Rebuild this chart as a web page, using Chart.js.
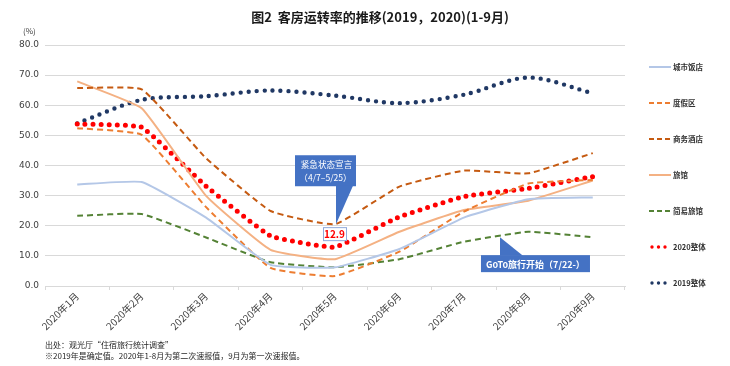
<!DOCTYPE html>
<html>
<head>
<meta charset="utf-8">
<script src="https://cdn.jsdelivr.net/npm/chart.js@4/dist/chart.umd.min.js"></script>
<style>
  html, body { margin: 0; padding: 0; background: #fff; }
  #wrap { width: 730px; height: 366px; position: relative; }
</style>
</head>
<body>
<div id="wrap"><canvas id="occChart" width="730" height="366"></canvas></div>
<script>
/* ── data ─────────────────────────────────────────────── */
const MONTHS = ['2020年1月','2020年2月','2020年3月','2020年4月','2020年5月','2020年6月','2020年7月','2020年8月','2020年9月'];
const CITY_HOTEL     = [33.7, 34.5, 22.7,  7.0,  6.2, 12.3, 22.7, 28.8, 29.4];
const RESORT_HOTEL   = [52.4, 50.2, 26.2,  6.0,  3.3, 11.4, 24.7, 34.0, 35.2];
const BUSINESS_HOTEL = [65.7, 65.3, 42.4, 24.9, 20.5, 33.0, 38.3, 37.4, 44.1];
const RYOKAN         = [67.9, 59.0, 29.9, 12.0,  8.9, 18.0, 25.2, 28.3, 35.0];
const SIMPLE_LODGE   = [23.3, 23.9, 16.1,  7.9,  6.2,  8.9, 14.7, 18.0, 16.2];
const TOTAL_2020     = [53.8, 52.7, 33.1, 16.6, 12.9, 23.0, 29.7, 32.4, 36.3];
const TOTAL_2019     = [54.0, 61.8, 63.0, 64.9, 63.2, 60.7, 63.5, 69.2, 64.0];
const Y_TICKS = [0, 10, 20, 30, 40, 50, 60, 70, 80];

const TITLE = '图2  客房运转率的推移(2019，2020)(1-9月)';
const NOTES = ['出处：观光厅“住宿旅行统计调查”', '※2019年是确定值。2020年1-8月为第二次速报值，9月为第一次速报值。'];

const FONT = "'Noto Sans CJK SC', 'DejaVu Sans', sans-serif";
const C = {
  city: '#b4c7e7', resort: '#ed7d31', business: '#c55a11', ryokan: '#f4b183',
  simple: '#548235', t2020: '#ff0000', t2019: '#203864', grid: '#d9d9d9',
  tick: '#404040', box: '#4472c4',
};

function lineDs(label, data, color, dash) {
  return {
    label, data, borderColor: color, backgroundColor: color,
    borderWidth: 2, borderDash: dash || [], pointRadius: 0,
    tension: 0.12, fill: false,
  };
}
function dotDs(label, data, color, tension, width) {
  return {
    label, data, borderColor: color, backgroundColor: color,
    borderWidth: width, borderDash: [0, 8], borderCapStyle: 'round',
    pointRadius: 0, tension, fill: false,
  };
}

// ── extras: title, notes, legend, callouts ──────────────
const extras = {
  id: 'extras',
  afterDraw(chart) {
    const ctx = chart.ctx;
    const xs = chart.scales.x, ys = chart.scales.y;
    ctx.save();

    // title
    ctx.fillStyle = '#1a1a1a';
    ctx.font = 'bold 13px ' + FONT;
    ctx.textAlign = 'center'; ctx.textBaseline = 'middle';
    ctx.fillText(TITLE, 380, 17);

    // unit
    ctx.font = '8px ' + FONT;
    ctx.fillStyle = '#404040';
    ctx.textAlign = 'left';
    ctx.fillText('(%)', 23, 31);

    // notes
    ctx.fillStyle = '#262626';
    ctx.font = '8px ' + FONT;
    ctx.fillText(NOTES[0], 45, 345);
    ctx.fillText(NOTES[1], 45, 356);

    // legend
    chart.data.datasets.forEach((ds, i) => {
      const y = 67 + i * 36;
      const dotted = ds.borderWidth >= 4;
      ctx.save();
      ctx.strokeStyle = ds.borderColor;
      ctx.lineWidth = dotted ? 3.4 : 2;
      ctx.lineCap = ds.borderCapStyle || 'butt';
      ctx.setLineDash(dotted ? [0, 6.5] : (ds.borderDash.length ? [5, 3] : []));
      ctx.beginPath();
      ctx.moveTo(dotted ? 652 : 649, y);
      ctx.lineTo(dotted ? 667 : 671, y);
      ctx.stroke();
      ctx.restore();
      ctx.fillStyle = '#333';
      ctx.font = 'bold 7.5px ' + FONT;
      ctx.textAlign = 'left';
      ctx.fillText(ds.label, 673, y);
    });

    // callout: emergency declaration -> 商务酒店 at 5月
    const ax = xs.getPixelForValue(4), ay = ys.getPixelForValue(BUSINESS_HOTEL[4]);
    const bx = ax - 40, by = ay - 69, bw = 61, bh = 31;
    ctx.fillStyle = C.box;
    ctx.fillRect(bx, by, bw, bh);
    ctx.beginPath();
    ctx.moveTo(ax + 1, by + bh - 0.5);
    ctx.lineTo(ax + 18, by + bh - 0.5);
    ctx.lineTo(ax + 1, ay);
    ctx.closePath(); ctx.fill();
    ctx.fillStyle = '#fff';
    ctx.font = '8.6px ' + FONT;
    ctx.textAlign = 'center';
    ctx.fillText('紧急状态宣言', bx + bw / 2 + 1, by + 9);
    ctx.fillText('（4/7–5/25）', bx + bw / 2, by + 22);

    // value label 12.9
    const px = xs.getPixelForValue(4), py = ys.getPixelForValue(TOTAL_2020[4]);
    ctx.fillStyle = '#fff';
    ctx.fillRect(px - 12, py - 20, 23, 13);
    ctx.strokeStyle = '#8faadc'; ctx.lineWidth = 1;
    ctx.strokeRect(px - 12 + 0.5, py - 20 + 0.5, 23, 13);
    ctx.fillStyle = '#ff0000';
    ctx.font = 'bold 10px ' + FONT;
    ctx.fillText(TOTAL_2020[4].toFixed(1), px - 0.5, py - 13);

    // callout: GoTo travel (7/22) -> 简易旅馆 between 7月 and 8月
    const f = 0.56;
    const gx = xs.getPixelForValue(6) + f * (xs.getPixelForValue(7) - xs.getPixelForValue(6));
    const gy = ys.getPixelForValue(SIMPLE_LODGE[6] + f * (SIMPLE_LODGE[7] - SIMPLE_LODGE[6])) + 1;
    const cx = gx - 19, cy = gy + 18, cw = 109, ch = 17;
    ctx.fillStyle = C.box;
    ctx.fillRect(cx, cy, cw, ch);
    ctx.beginPath();
    ctx.moveTo(gx, gy);
    ctx.lineTo(gx, cy + 0.5);
    ctx.lineTo(gx + 23, cy + 0.5);
    ctx.closePath(); ctx.fill();
    ctx.fillStyle = '#fff';
    ctx.font = 'bold 9px ' + FONT;
    ctx.fillText('GoTo旅行开始（7/22-）', cx + cw / 2, cy + ch / 2 + 0.5);

    ctx.restore();
  },
};

new Chart(document.getElementById('occChart'), {
  type: 'line',
  data: {
    labels: MONTHS,
    datasets: [
      lineDs('城市饭店', CITY_HOTEL, C.city),
      lineDs('度假区', RESORT_HOTEL, C.resort, [6, 4]),
      lineDs('商务酒店', BUSINESS_HOTEL, C.business, [6, 4]),
      lineDs('旅馆', RYOKAN, C.ryokan),
      lineDs('简易旅馆', SIMPLE_LODGE, C.simple, [6, 4]),
      dotDs('2020整体', TOTAL_2020, C.t2020, 0.1, 5),
      dotDs('2019整体', TOTAL_2019, C.t2019, 0.3, 4.4),
    ],
  },
  options: {
    responsive: false,
    animation: false,
    devicePixelRatio: 1,
    layout: { padding: { left: 0, right: 105, top: 45, bottom: 30 } },
    plugins: {
      legend: { display: false },
      title: { display: false },
      tooltip: { enabled: false },
    },
    scales: {
      x: {
        offset: true,
        grid: { offset: true, drawOnChartArea: false, drawTicks: true, tickLength: 4, color: C.grid },
        border: { color: C.grid },
        ticks: {
          color: C.tick, font: { family: FONT, size: 10 },
          maxRotation: 45, minRotation: 45, padding: 0, autoSkip: false,
        },
        afterFit: s => { s.height = 50; },
      },
      y: {
        min: 0, max: 80,
        afterBuildTicks: s => { s.ticks = Y_TICKS.map(v => ({ value: v })); },
        grid: { color: C.grid, drawTicks: false },
        border: { display: false },
        ticks: {
          color: C.tick, font: { family: "'DejaVu Sans', sans-serif", size: 9 }, padding: 6,
          callback: v => Number(v).toFixed(1),
        },
        afterFit: s => { s.width = 45; },
      },
    },
  },
  plugins: [extras],
});
</script>
</body>
</html>
